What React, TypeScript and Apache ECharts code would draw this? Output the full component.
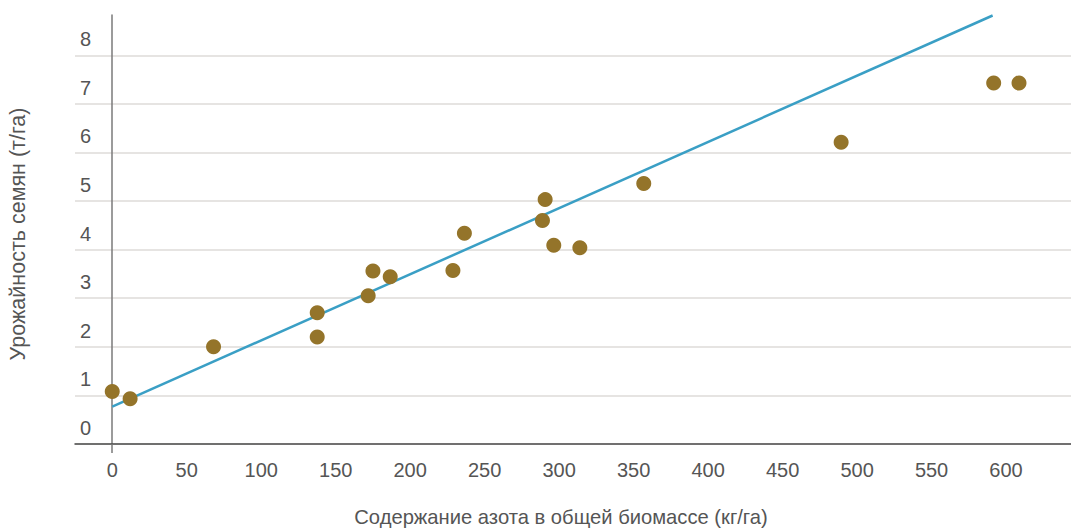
import React, { useEffect, useRef } from "react";
import * as echarts from "echarts";

const xTicks = [0, 50, 100, 150, 200, 250, 300, 350, 400, 450, 500, 550, 600];
const yTicks = [0, 1, 2, 3, 4, 5, 6, 7, 8];
const nitrogen = [0, 12, 68, 137.6, 137.6, 171.8, 175, 186.6, 228.7, 236.4, 288.8, 290.6, 296.4, 313.9, 356.8, 489.3, 591.7, 608.7];
const seedYield = [1.08, 0.93, 2.0, 2.7, 2.2, 3.05, 3.56, 3.44, 3.57, 4.34, 4.6, 5.03, 4.09, 4.04, 5.36, 6.21, 7.43, 7.43];
const fitX = [0, 591];
const fitY = [0.77, 8.82];
const xTitle = "Содержание азота в общей биомассе (кг/га)";
const yTitle = "Урожайность семян (т/га)";

const FONT = "'Liberation Sans', Arial, Helvetica, sans-serif";

export default function App() {
  const ref = useRef<HTMLDivElement>(null);
  useEffect(() => {
    if (!ref.current) return;
    const chart = echarts.init(ref.current, null, { renderer: "svg" });
    chart.setOption({
      animation: false,
      grid: { left: 75, right: 0, top: 15, bottom: 84, containLabel: false },
      xAxis: {
        type: "value",
        min: -25,
        max: 643.6,
        axisLine: { show: true, onZero: false, lineStyle: { color: "#4a4a4a", width: 1.5 } },
        axisTick: { show: true, customValues: [0], length: 9, lineStyle: { color: "#7a7a7a", width: 1.5 } },
        axisLabel: {
          customValues: xTicks,
          color: "#555",
          fontSize: 20,
          fontFamily: FONT,
          margin: 16,
        },
        splitLine: { show: false },
      },
      yAxis: {
        type: "value",
        min: 0,
        max: 8.83,
        axisLine: { show: true, onZero: true, lineStyle: { color: "#7a7a7a", width: 1.5 } },
        axisTick: { show: false, customValues: yTicks },
        axisLabel: {
          customValues: yTicks,
          inside: true,
          align: "left",
          color: "#555",
          fontSize: 20,
          fontFamily: FONT,
          margin: 5,
          verticalAlign: "bottom",
          lineHeight: 32,
        },
        splitLine: { show: true, lineStyle: { color: "#dedbd8", width: 1.5 } },
      },
      graphic: [
        {
          type: "text",
          x: 561,
          y: 517,
          style: { text: xTitle, fill: "#555", fontSize: 20.2, fontFamily: FONT, align: "center", verticalAlign: "middle" },
        },
        {
          type: "text",
          x: 18,
          y: 234,
          rotation: Math.PI / 2,
          style: { text: yTitle, fill: "#555", fontSize: 21.5, fontFamily: FONT, align: "center", verticalAlign: "middle" },
        },
      ],
      series: [
        {
          type: "line",
          data: fitX.map((x, i) => [x, fitY[i]]),
          showSymbol: false,
          symbol: "none",
          clip: false,
          lineStyle: { color: "#3a9fc5", width: 2.5 },
          z: 2,
        },
        {
          type: "scatter",
          data: nitrogen.map((x, i) => [x, seedYield[i]]),
          symbolSize: 15,
          itemStyle: { color: "#94742a", opacity: 1 },
          clip: false,
          z: 3,
        },
      ],
    });
    return () => chart.dispose();
  }, []);
  return (
    <div
      ref={ref}
      style={{ position: "fixed", left: 0, top: 0, width: 1071, height: 528, background: "#fff" }}
    />
  );
}
